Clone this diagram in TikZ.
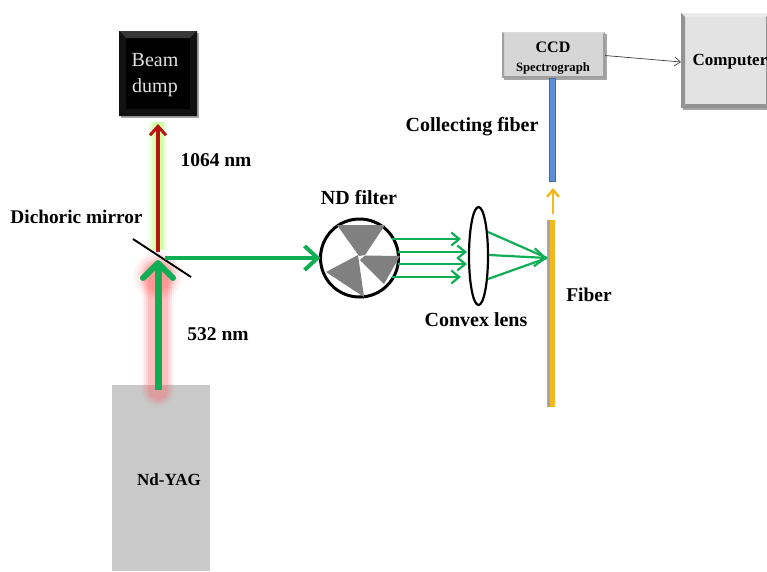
\documentclass[tikz,border=0pt]{standalone}
\usepackage{fontspec}
\setmainfont{Liberation Serif}
\usetikzlibrary{arrows.meta,calc,shapes.geometric}
\definecolor{beamgreen}{HTML}{0FAE55}
\definecolor{beamred}{HTML}{B81414}
\definecolor{fiberyellow}{HTML}{F5B81C}
\definecolor{fiberblue}{HTML}{5B8FD6}
\definecolor{boxgray}{HTML}{E3E3E3}
\definecolor{ccdgray}{HTML}{D6D6D6}
\definecolor{yaggray}{HTML}{C9C9C9}
\definecolor{wedgegray}{HTML}{808080}
\colorlet{dumplight}{black!78}
\colorlet{dumpdark}{black!93}
\colorlet{ccdlight}{ccdgray!90!white}
\colorlet{ccddark}{gray!75}
\colorlet{complight}{white!92!black}
\colorlet{compdark}{gray!85}
\tikzset{
  lbl/.style={font=\bfseries\fontsize{#1}{#1}\selectfont,inner sep=0pt,text=black},
  thinbeam/.style={draw=beamgreen,line width=2.2pt,-{Straight Barb[length=8pt,width=13pt,line width=2.2pt]}},
  conv/.style={draw=beamgreen,line width=2.2pt}
}
% bevelled box: name, x0, y0, x1, y1, face, light, dark, bevel
\newcommand{\bevelbox}[9]{%
  \fill[gray!70] (#2+1.5,#3+1.5) rectangle (#4+2,#5+2);
  \node[fill=#6,minimum width=#4-#2,minimum height=#5-#3,inner sep=0pt,outer sep=0pt,anchor=north west] (#1) at (#2,#3) {};
  \fill[#7] (#2,#3) -- (#4,#3) -- (#4-#9,#3+#9) -- (#2+#9,#3+#9) -- cycle;
  \fill[#8] (#2,#3) -- (#2,#5) -- (#2+#9,#5-#9) -- (#2+#9,#3+#9) -- cycle;
  \fill[#8] (#2,#5) -- (#4,#5) -- (#4-#9,#5-#9) -- (#2+#9,#5-#9) -- cycle;
  \fill[#8] (#4,#3) -- (#4,#5) -- (#4-#9,#5-#9) -- (#4-#9,#3+#9) -- cycle;
}
\begin{document}
\begin{tikzpicture}[x=1pt,y=-1pt]
\useasboundingbox (0,0) rectangle (767,571);
\fill[white] (0,0) rectangle (767,571);

% Nd-YAG box
\node[fill=yaggray,minimum width=98pt,minimum height=186pt,inner sep=0pt,outer sep=0pt,anchor=north west] (yag) at (112,385) {};
\node[lbl=17] (yagl) at (169,480) {Nd-YAG};

% beam dump
\bevelbox{dump}{119}{31}{197}{116}{black}{dumplight}{dumpdark}{7}
\node[text=white!88!black,font=\fontsize{20}{26}\selectfont,align=center,inner sep=0pt] (dumpl) at (155,75) {Beam\\dump};

% CCD
\bevelbox{ccd}{502}{32}{605}{78}{ccdgray}{ccdlight}{ccddark}{2}
\node[lbl=16] (ccdl) at (553,47) {CCD};
\node[lbl=12.7] (specl) at (553,68) {Spectrograph};

% Computer
\bevelbox{comp}{681}{13}{770}{108}{boxgray}{complight}{compdark}{4}
\node[lbl=17] (compl) at (730,62) {Computer};

% glows
\coordinate (mirrorc) at (158,258);
\coordinate (yagtop) at (158,390);
\foreach \w/\o in {32/.07,28/.09,24/.12,20/.16}
  \draw[red!65!white,line width=\w pt,opacity=\o,line cap=round] (158,276) -- (yagtop);
\foreach \r/\o in {24/.07,21/.09,18/.12,15/.16}
  \fill[red!65!white,opacity=\o] (158,276) circle [radius=\r];
\foreach \w/\o in {20/.06,16/.08,12/.12,9/.16}
  \draw[green!50!yellow,line width=\w pt,opacity=\o] (158,250) -- (158,122);

% red beam
\coordinate (redend) at (158,124);
\draw[beamred,line width=3.2pt,-{Straight Barb[length=9pt,width=16pt,line width=3pt]}] (158,252) -- (redend);

% mirror
\coordinate (m1) at (133,239);
\coordinate (m2) at (191,277);
\draw[black,line width=1.9pt] (m1) -- (m2);

% green input beam
\draw[draw=beamgreen,line width=7pt,-{Straight Barb[length=15pt,width=30pt,line width=6pt,round]}] (yagtop) -- (158,260);

% ND filter
\coordinate (ndc) at (359.5,258);
\node[circle,minimum size=78pt,inner sep=0pt,outer sep=0pt] (nd) at (ndc) {};
\draw[black,line width=3pt] (nd.center) circle [radius=39];
\fill[wedgegray] (337,225) -- (385,225) -- (365,255) -- (359,256) -- (356.7,252.7) -- cycle;
\fill[wedgegray] (365,255.5) -- (400,256) -- (384,284) -- (360,260) -- cycle;
\fill[wedgegray] (326,272) -- (358,255) -- (364,297) -- cycle;

% horizontal green beam
\draw[draw=beamgreen,line width=4.5pt,-{Straight Barb[length=13pt,width=24pt,line width=4pt]}] (165,258) -- (nd.west);

% lens
\node[ellipse,draw=black,line width=2.2pt,minimum width=19pt,minimum height=98pt,inner sep=0pt,outer sep=0pt,fill=white] (lens) at (478.5,256) {};

% parallel rays
\draw[thinbeam] (392,239) -- (461,239);
\draw[thinbeam] (398,252) -- (467,252);
\draw[thinbeam] (398,264) -- (467,264);
\draw[thinbeam] (392,277) -- (461,277);

% fibers
\coordinate (fibtip) at (547,258);
\fill[gray!70] (547,220) rectangle (550,407);
\node[fill=fiberyellow,minimum width=5pt,minimum height=187pt,inner sep=0pt,outer sep=0pt] (fiber) at (552.5,313.5) {};
\node[fill=fiberblue,draw=fiberblue!75!black,line width=.5pt,minimum width=6pt,minimum height=103pt,inner sep=0pt,outer sep=0pt] (cfib) at (552,129.5) {};

% converging rays
\draw[conv] (488,232) -- (fibtip);
\draw[conv] (488,279) -- (fibtip);
\draw[conv,-{Straight Barb[length=11pt,width=18pt,line width=2.2pt]}] (489,255) -- (fibtip);

% orange arrow
\draw[fiberyellow,line width=2.4pt,-{Straight Barb[length=7pt,width=12pt,line width=2.4pt]}] (553,214) -- (553,188);

% computer link
\draw[black!75,line width=.7pt,-{Straight Barb[length=6pt,width=9pt,line width=.7pt]}] (605,55.5) -- (681,62);

% labels
\node[lbl=19.5] (l1064) at (216,160) {1064 nm};
\node[lbl=19.3] (lmirror) at (76.5,217) {Dichoric mirror};
\node[lbl=20] (lnd) at (359,198) {ND filter};
\node[lbl=20] (lconvex) at (476,320) {Convex lens};
\node[lbl=19.5] (lfiber) at (589,295) {Fiber};
\node[lbl=19.5] (l532) at (218,334) {532 nm};
\node[lbl=20] (lcoll) at (472,127) {Collecting fiber};
\end{tikzpicture}
\end{document}
